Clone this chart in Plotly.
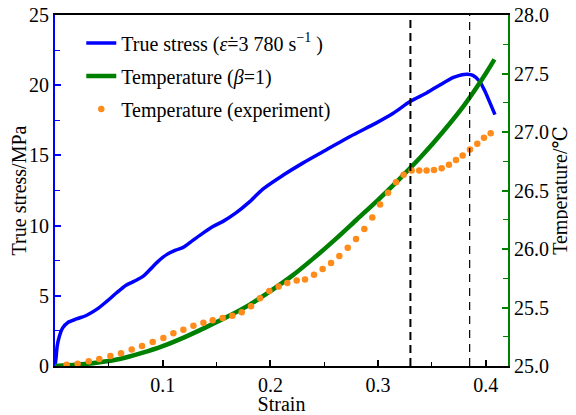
import plotly.graph_objects as go

# True stress (MPa) vs strain
stress_strain = [0, 0.001, 0.002, 0.004, 0.007, 0.012, 0.02, 0.029, 0.039, 0.048, 0.057, 0.066,
                 0.074, 0.082, 0.088, 0.095, 0.104, 0.112, 0.119, 0.128, 0.138, 0.147, 0.156,
                 0.168, 0.18, 0.193, 0.212, 0.23, 0.252, 0.274, 0.298, 0.314, 0.33, 0.345,
                 0.357, 0.37, 0.378, 0.383, 0.388, 0.394, 0.399, 0.403, 0.4085]
stress = [0, 0.6, 1.4, 2.1, 2.7, 3.1, 3.35, 3.6, 4.05, 4.6, 5.2, 5.75,
          6.05, 6.4, 6.85, 7.4, 7.95, 8.25, 8.45, 8.95, 9.5, 9.95, 10.3,
          10.9, 11.65, 12.6, 13.6, 14.45, 15.4, 16.35, 17.3, 18.0, 18.85, 19.45,
          20.0, 20.55, 20.75, 20.78, 20.7, 20.3, 19.6, 18.9, 17.9]

# Model temperature (beta = 1)
model_strain = [0, 0.02, 0.04, 0.06, 0.08, 0.10, 0.12, 0.14, 0.16, 0.18, 0.20, 0.22,
                0.24, 0.26, 0.28, 0.30, 0.32, 0.34, 0.36, 0.38, 0.40, 0.408]
model_temp = [25.0, 25.01, 25.03, 25.06, 25.11, 25.17, 25.245, 25.33, 25.42, 25.52, 25.64, 25.77,
              25.92, 26.08, 26.25, 26.42, 26.60, 26.79, 27.00, 27.23, 27.50, 27.62]

# Experimental temperature
exp_strain = [0.0108, 0.021, 0.0313, 0.0411, 0.0514, 0.0613, 0.0712, 0.0808, 0.0907, 0.1006,
              0.1099, 0.1192, 0.1285, 0.1378, 0.1464, 0.1557, 0.1647, 0.1734, 0.182, 0.1903,
              0.199, 0.2077, 0.2157, 0.2244, 0.2321, 0.2405, 0.2485, 0.2563, 0.264, 0.2718,
              0.2795, 0.2872, 0.2946, 0.3018, 0.3092, 0.3166, 0.3237, 0.3311, 0.3382, 0.345,
              0.3519, 0.359, 0.3658, 0.3723, 0.3785, 0.3853, 0.3921, 0.3983, 0.4045]
exp_temp = [25.01, 25.02, 25.04, 25.06, 25.085, 25.11, 25.14, 25.17, 25.205, 25.24,
            25.28, 25.31, 25.345, 25.37, 25.39, 25.41, 25.43, 25.46, 25.51, 25.58,
            25.64, 25.68, 25.71, 25.73, 25.74, 25.78, 25.83, 25.88, 25.94, 26.01,
            26.085, 26.17, 26.27, 26.38, 26.48, 26.57, 26.635, 26.67, 26.67, 26.67,
            26.675, 26.69, 26.72, 26.76, 26.80, 26.85, 26.90, 26.95, 26.99]

marker_strains = [0.33, 0.385]
marker_widths = [2, 1.2]
marker_dash = ["8px,5px", "8px,6px"]

FONT = "Liberation Serif, Tinos, Times New Roman, DejaVu Serif"
BLUE = "#0000ff"
GREEN = "#008000"
ORANGE = "#ff8c1a"
FS = 20

fig = go.Figure()
fig.add_trace(go.Scatter(
    x=stress_strain, y=stress, mode="lines",
    line=dict(color=BLUE, width=3.5, shape="spline", smoothing=0.8),
    name="True stress (<i>ε̇</i>=3 780 s<sup>−1</sup> )", legendgroup="a"))
fig.add_trace(go.Scatter(
    x=model_strain, y=model_temp, mode="lines",
    line=dict(color=GREEN, width=4.5, shape="spline", smoothing=0.8),
    name="Temperature (<i>β</i>=1)", yaxis="y2", legendgroup="b"))
fig.add_trace(go.Scatter(
    x=exp_strain, y=exp_temp, mode="markers", marker=dict(color=ORANGE, size=6.5),
    name="Temperature (experiment)", yaxis="y2", legendgroup="c"))

for xs, w, d in zip(marker_strains, marker_widths, marker_dash):
    fig.add_shape(type="line", xref="x", yref="paper", x0=xs, x1=xs, y0=0, y1=1,
                  line=dict(color="black", width=w, dash=d))

# page body has an 8px margin, so the figure is 8px smaller than the window
fig.update_layout(
    width=568, height=407,
    margin=dict(l=47, r=68, t=7, b=49, autoexpand=False),
    paper_bgcolor="white", plot_bgcolor="white",
    font=dict(family=FONT, size=FS, color="black"),
    showlegend=True,
    legend=dict(x=0.058, y=0.976, xanchor="left", yanchor="top",
                bgcolor="rgba(0,0,0,0)", font=dict(family=FONT, size=FS),
                tracegroupgap=4, itemwidth=30),
    xaxis=dict(range=[0, 0.4206], tickvals=[0.1, 0.2, 0.3, 0.4],
               ticktext=["0.1", "0.2", "0.3", "0.4"],
               ticks="inside", ticklen=6, tickwidth=1.5, tickcolor="black",
               minor=dict(tickvals=[0.05, 0.15, 0.25, 0.35], ticks="inside", ticklen=4,
                          tickwidth=1.2, tickcolor="black"),
               showline=True, linecolor="black", linewidth=1.5, mirror=True,
               showgrid=False, zeroline=False, ticklabeloverflow="allow",
               title=dict(text="Strain", standoff=2, font=dict(family=FONT, size=FS)),
               tickfont=dict(family=FONT, size=FS)),
    yaxis=dict(range=[0, 25], tickvals=[0, 5, 10, 15, 20, 25],
               ticks="inside", ticklen=6, tickwidth=1.5, tickcolor=BLUE,
               minor=dict(tickvals=[2.5, 7.5, 12.5, 17.5, 22.5], ticks="inside", ticklen=5,
                          tickwidth=1.2, tickcolor=BLUE),
               showline=True, linecolor=BLUE, linewidth=2,
               showgrid=False, zeroline=False, ticklabeloverflow="allow",
               title=dict(text="True stress/MPa", standoff=10, font=dict(family=FONT, size=FS)),
               tickfont=dict(family=FONT, size=FS)),
    yaxis2=dict(range=[25, 28], overlaying="y", side="right",
                tickvals=[25, 25.5, 26, 26.5, 27, 27.5, 28],
                ticktext=["25.0", "25.5", "26.0", "26.5", "27.0", "27.5", "28.0"],
                ticks="inside", ticklen=6, tickwidth=1.5, tickcolor=GREEN,
                minor=dict(tickvals=[25.25, 25.75, 26.25, 26.75, 27.25, 27.75], ticks="inside",
                           ticklen=5, tickwidth=1.2, tickcolor=GREEN),
                showline=True, linecolor=GREEN, linewidth=2,
                showgrid=False, zeroline=False, ticklabeloverflow="allow",
                title=dict(text="Temperature/℃", standoff=4, font=dict(family=FONT, size=FS)),
                tickfont=dict(family=FONT, size=FS)),
)

fig.write_html("out.html")
